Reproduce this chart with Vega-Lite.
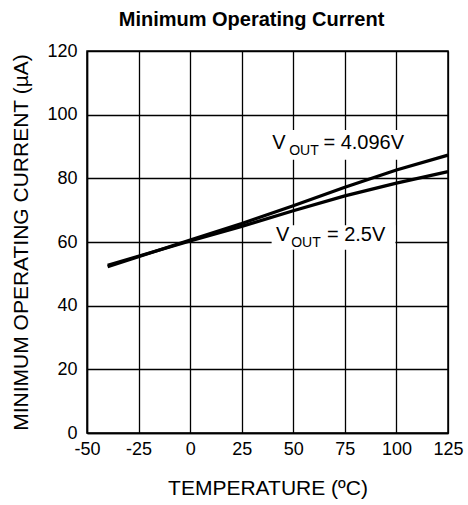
{
  "$schema": "https://vega.github.io/schema/vega-lite/v6.json",
  "width": 361,
  "height": 382,
  "autosize": {"type": "none"},
  "padding": {"left": 87, "top": 51, "right": 20, "bottom": 72},
  "background": "white",
  "title": {
    "text": "Minimum Operating Current",
    "font": "Liberation Sans",
    "fontSize": 20,
    "fontWeight": "bold",
    "color": "black",
    "anchor": "middle",
    "dx": -16,
    "offset": 12
  },
  "config": {
    "font": "Liberation Sans",
    "view": {"stroke": "black", "strokeWidth": 1.5},
    "axis": {
      "domainColor": "black",
      "domainWidth": 1.5,
      "gridColor": "black",
      "gridOpacity": 1,
      "gridWidth": 1.3,
      "ticks": false,
      "labelColor": "black",
      "labelFontSize": 18,
      "labelFont": "Liberation Sans",
      "titleFont": "Liberation Sans",
      "titleFontSize": 21,
      "titleFontWeight": "normal",
      "titleColor": "black"
    }
  },
  "layer": [
    {
      "data": {"values": [
        {"t1": 36, "t2": 108, "c1": 85.8, "c2": 95.2},
        {"t1": 39.5, "t2": 99.5, "c1": 57.6, "c2": 65.3}
      ]},
      "mark": {"type": "rect", "fill": "white", "stroke": null},
      "encoding": {
        "x": {"field": "t1", "type": "quantitative"},
        "x2": {"field": "t2"},
        "y": {"field": "c1", "type": "quantitative"},
        "y2": {"field": "c2"}
      }
    },
    {
      "data": {"values": [
        {"series": "4.096V", "temp": -40, "current": 52.2},
        {"series": "4.096V", "temp": 0, "current": 60.6},
        {"series": "4.096V", "temp": 25, "current": 65.8},
        {"series": "4.096V", "temp": 50, "current": 71.4},
        {"series": "4.096V", "temp": 75, "current": 77.2},
        {"series": "4.096V", "temp": 100, "current": 82.6},
        {"series": "4.096V", "temp": 125, "current": 87.3},
        {"series": "2.5V", "temp": -40, "current": 52.7},
        {"series": "2.5V", "temp": 0, "current": 60.3},
        {"series": "2.5V", "temp": 25, "current": 64.9},
        {"series": "2.5V", "temp": 50, "current": 69.8},
        {"series": "2.5V", "temp": 75, "current": 74.5},
        {"series": "2.5V", "temp": 100, "current": 78.5},
        {"series": "2.5V", "temp": 125, "current": 82.1}
      ]},
      "mark": {"type": "line", "color": "black", "strokeWidth": 3.2},
      "encoding": {
        "x": {
          "field": "temp", "type": "quantitative",
          "scale": {"domain": [-50, 125], "nice": false, "zero": false},
          "axis": {"values": [-50, -25, 0, 25, 50, 75, 100, 125], "labelExpr": "'' + datum.value", "labelPadding": 7, "title": "TEMPERATURE (ºC)", "titlePadding": 19, "labelFlush": false}
        },
        "y": {
          "field": "current", "type": "quantitative",
          "scale": {"domain": [0, 120], "nice": false},
          "axis": {"values": [0, 20, 40, 60, 80, 100, 120], "labelPadding": 10, "title": "MINIMUM OPERATING CURRENT (µA)", "titlePadding": 15, "labelFlush": false}
        },
        "detail": {"field": "series"}
      }
    },
    {
      "data": {"values": [
        {"temp": 39.8, "current": 89.1, "text": "V"},
        {"temp": 64.6, "current": 89.1, "text": "= 4.096V"},
        {"temp": 41.6, "current": 60.4, "text": "V"},
        {"temp": 66.3, "current": 60.4, "text": "= 2.5V"}
      ]},
      "mark": {"type": "text", "align": "left", "baseline": "alphabetic", "fontSize": 20, "color": "black"},
      "encoding": {
        "x": {"field": "temp", "type": "quantitative"},
        "y": {"field": "current", "type": "quantitative"},
        "text": {"field": "text"}
      }
    },
    {
      "data": {"values": [
        {"temp": 48.0, "current": 87.3, "text": "OUT"},
        {"temp": 49.0, "current": 58.3, "text": "OUT"}
      ]},
      "mark": {"type": "text", "align": "left", "baseline": "alphabetic", "fontSize": 14, "color": "black"},
      "encoding": {
        "x": {"field": "temp", "type": "quantitative"},
        "y": {"field": "current", "type": "quantitative"},
        "text": {"field": "text"}
      }
    }
  ]
}
